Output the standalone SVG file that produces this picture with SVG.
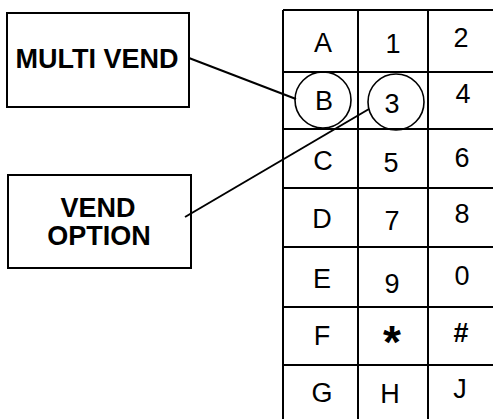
<svg xmlns="http://www.w3.org/2000/svg" width="493" height="419" viewBox="0 0 493 419">
<style>
.box{fill:#fff;stroke:#000;stroke-width:2}
.lbl{font-family:"Liberation Sans",Arial,sans-serif;font-weight:bold;font-size:27px;text-anchor:middle;fill:#000}
.grid{stroke:#000;stroke-width:2;fill:none}
.key{font-family:"Liberation Sans",Arial,sans-serif;font-size:27px;text-anchor:middle;fill:#000}
.ring{fill:none;stroke:#000;stroke-width:1.6}
.conn{stroke:#000;stroke-width:2;fill:none}
</style>
<rect width="493" height="419" fill="#fff"/>
<g id="keypad">
<path class="grid" d="M283 10V430M358 10V430M428 10V430M283 10H500M283 72H500M283 129H500M283 188H500M283 247H500M283 307H500M283 365H500"/>
<text class="key" x="323" y="52">A</text>
<text class="key" x="393" y="53">1</text>
<text class="key" x="461" y="47">2</text>
<text class="key" x="324" y="110">B</text>
<text class="key" x="392" y="113">3</text>
<text class="key" x="463" y="103">4</text>
<text class="key" x="323" y="170">C</text>
<text class="key" x="391" y="172">5</text>
<text class="key" x="462" y="167">6</text>
<text class="key" x="322" y="228">D</text>
<text class="key" x="392" y="230">7</text>
<text class="key" x="462" y="223">8</text>
<text class="key" x="322" y="288">E</text>
<text class="key" x="392" y="293">9</text>
<text class="key" x="462" y="285">0</text>
<text class="key" x="322" y="345">F</text>
<text class="key" x="392" y="358" style="font-weight:bold;font-size:46px">*</text>
<text class="key" x="461" y="342" style="font-weight:bold">#</text>
<text class="key" x="322" y="402">G</text>
<text class="key" x="390" y="403">H</text>
<text class="key" x="460" y="398">J</text>
</g>
<g id="highlight-B"><circle class="ring" cx="323" cy="100" r="28"/></g>
<g id="highlight-3"><circle class="ring" cx="396" cy="102" r="28"/></g>
<g id="multi-vend">
<rect class="box" x="7" y="13" width="182" height="94"/>
<text class="lbl" x="97" y="68">MULTI VEND</text>
</g>
<g id="vend-option">
<rect class="box" x="8" y="175" width="183" height="93"/>
<text class="lbl" x="98" y="217">VEND</text>
<text class="lbl" x="99" y="245">OPTION</text>
</g>
<g id="connectors">
<line class="conn" x1="189" y1="58" x2="296" y2="99"/>
<line class="conn" x1="185" y1="217" x2="369" y2="109"/>
</g>
</svg>
